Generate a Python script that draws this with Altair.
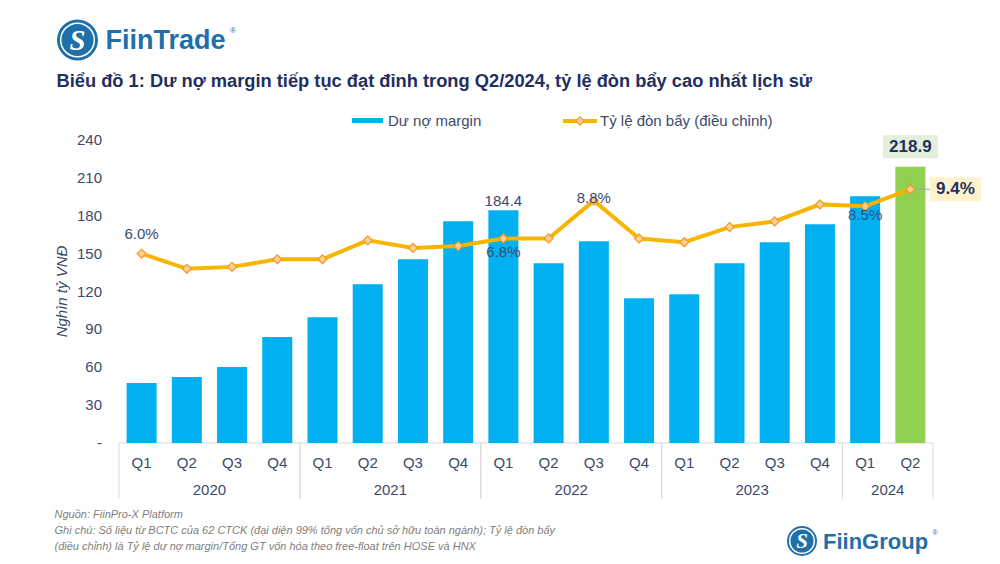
import altair as alt
import pandas as pd

# ---------------- data ----------------
quarters = ["Q1", "Q2", "Q3", "Q4", "Q1", "Q2", "Q3", "Q4", "Q1", "Q2", "Q3", "Q4",
            "Q1", "Q2", "Q3", "Q4", "Q1", "Q2"]
years = ["2020", "2020", "2020", "2020", "2021", "2021", "2021", "2021",
         "2022", "2022", "2022", "2022", "2023", "2023", "2023", "2023",
         "2024", "2024"]
margin = [47.5, 52.2, 60.1, 84.0, 99.7, 125.8, 145.6, 175.6, 184.4, 142.4,
          159.8, 114.7, 117.9, 142.4, 159.0, 173.3, 195.4, 218.9]
leverage = [6.0, 5.2, 5.3, 5.7, 5.7, 6.7, 6.3, 6.4, 6.8, 6.8,
            8.8, 6.8, 6.6, 7.4, 7.7, 8.6, 8.5, 9.4]
y_ticks = [0, 30, 60, 90, 120, 150, 180, 210, 240]
y_domain = [0, 240]
lev_domain = [-4, 12]   # hidden secondary axis

legend_labels = ["Dư nợ margin", "Tỷ lệ đòn bẩy (điều chỉnh)"]
title_text = "Biểu đồ 1: Dư nợ margin tiếp tục đạt đỉnh trong Q2/2024, tỷ lệ đòn bẩy cao nhất lịch sử"
y_title = "Nghìn tỷ VNĐ"
footer_lines = [
    "Nguồn: FiinPro-X Platform",
    "Ghi chú: Số liệu từ BCTC của 62 CTCK (đại diện 99% tổng vốn chủ sở hữu toàn ngành); Tỷ lệ đòn bẩy",
    "(điều chỉnh) là Tỷ lệ dư nợ margin/Tổng GT vốn hóa theo free-float trên HOSE và HNX",
]

df = pd.DataFrame({"i": list(range(len(margin))), "q": quarters, "year": years,
                   "margin": margin, "lev": leverage})
ticks_df = pd.DataFrame({"v": y_ticks})
one = pd.DataFrame({"a": [0]})

# ---------------- style ----------------
FONT = "Liberation Sans, Arial, sans-serif"
TXT = "#3b4a6b"
NAVY = "#1f2f5f"
BLUE = "#00b0f0"
GREEN = "#92d050"
GOLD = "#f7b500"
LOGO = "#1f6fa8"
W, H = 814, 303
LAST = len(margin) - 1

xscale = alt.Scale(domain=[-0.5, len(margin) - 0.5], nice=False, zero=False)
yscale = alt.Scale(domain=y_domain, nice=False, zero=True)
lev_expr = f"(datum.lev - ({lev_domain[0]})) * {y_domain[1]} / ({lev_domain[1]} - ({lev_domain[0]}))"

base = alt.Chart(df)
X = alt.X("i:Q", scale=xscale, axis=None)
LY = alt.Y("ly:Q", scale=yscale, axis=None, title=None)
MY = alt.Y("margin:Q", scale=yscale, axis=None, title=None)

bars = base.transform_calculate(
    x0="datum.i - 0.332", x1="datum.i + 0.332", zero="0"
).mark_bar().encode(
    x=alt.X("x0:Q", scale=xscale, axis=None),
    x2="x1:Q",
    y=MY,
    y2="zero:Q",
    color=alt.condition(f"datum.i == {LAST}", alt.value(GREEN), alt.value(BLUE)),
)

# y tick labels (left value axis)
ylabels = alt.Chart(ticks_df).transform_calculate(
    t="datum.v == 0 ? '-' : format(datum.v, 'd')"
).mark_text(font=FONT, fontSize=15, color=TXT, align="right", baseline="middle").encode(
    x=alt.value(-17), y=alt.Y("v:Q", scale=yscale, axis=None, title=None), text="t:N")

line_base = base.transform_calculate(ly=lev_expr, t="format(datum.lev, '.1f') + '%'")
line = line_base.mark_line(color=GOLD, strokeWidth=4).encode(x=X, y=LY)
pts = line_base.mark_point(shape="diamond", filled=True, size=80, fill="#fdd18a",
                           stroke="#f39a2b", strokeWidth=1.3, opacity=1).encode(x=X, y=LY)


def lev_label(idx, dy, dx=0, color=TXT):
    return line_base.transform_filter(f"datum.i == {idx}").mark_text(
        font=FONT, fontSize=15, color=color, dy=dy, dx=dx, baseline="middle"
    ).encode(x=X, y=LY, text="t:N")


lab60 = lev_label(0, -20)
lab68 = lev_label(8, 14)
lab88 = lev_label(10, -3)
lab85 = lev_label(16, 9, color="#2f4f8a")

# 9.4% call-out
box94 = line_base.transform_filter(f"datum.i == {LAST}").mark_point(
    shape="M-1,-0.47L1,-0.47L1,0.47L-1,0.47Z", size=51 ** 2, filled=True,
    fill="#fff2cc", opacity=1, strokeWidth=0, xOffset=45).encode(x=X, y=LY)
lead94 = line_base.transform_filter(f"datum.i == {LAST}").mark_point(
    shape="M0,0L1,0", size=32 ** 2, filled=False, stroke="#a6a6a6", strokeWidth=1,
    opacity=1, xOffset=4).encode(x=X, y=LY)
txt94 = line_base.transform_filter(f"datum.i == {LAST}").mark_text(
    font=FONT, fontSize=17, fontWeight="bold", color=NAVY, dx=45, baseline="middle"
).encode(x=X, y=LY, text="t:N")

# bar labels
lab184 = base.transform_filter("datum.i == 8").mark_text(
    font=FONT, fontSize=15, color=TXT, dy=-9, baseline="middle"
).encode(x=X, y=MY, text=alt.Text("margin:Q", format=".1f"))
box219 = base.transform_filter(f"datum.i == {LAST}").mark_point(
    shape="M-1,-0.418L1,-0.418L1,0.418L-1,0.418Z", size=55 ** 2, filled=True,
    fill="#e2efda", opacity=1, strokeWidth=0, yOffset=-20
).encode(x=X, y=MY)
txt219 = base.transform_filter(f"datum.i == {LAST}").mark_text(
    font=FONT, fontSize=17, fontWeight="bold", color=NAVY, dy=-20, baseline="middle"
).encode(x=X, y=MY, text=alt.Text("margin:Q", format=".1f"))

# x axis (two levels)
qlab = base.mark_text(font=FONT, fontSize=15, color=TXT, baseline="middle").encode(
    x=X, y=alt.value(H + 20), text="q:N")
ylab = base.transform_aggregate(mid="mean(i)", groupby=["year"]).mark_text(
    font=FONT, fontSize=15, color=TXT, baseline="middle").encode(
    x=alt.X("mid:Q", scale=xscale, axis=None), y=alt.value(H + 47), text="year:N")
seps = base.transform_aggregate(lo="min(i)", hi="max(i)", groupby=["year"]).transform_calculate(
    a="datum.lo - 0.5", b="datum.hi + 0.5").transform_fold(["a", "b"], as_=["k", "edge"]).mark_rule(
    color="#d9d9d9", strokeWidth=1).encode(
    x=alt.X("edge:Q", scale=xscale, axis=None), y=alt.value(H), y2=alt.value(H + 56))
baseline = alt.Chart(one).mark_rule(color="#d9d9d9", strokeWidth=1).encode(
    x=alt.value(0), x2=alt.value(W), y=alt.value(H))

# legend
leg_df = pd.DataFrame({"label": legend_labels, "k": [0, 1]})
leg_bar = alt.Chart(one).mark_rect(color=BLUE).encode(
    x=alt.value(233), x2=alt.value(264), y=alt.value(-22), y2=alt.value(-17))
leg_line = alt.Chart(one).mark_rule(color=GOLD, strokeWidth=4).encode(
    x=alt.value(444), x2=alt.value(478), y=alt.value(-19))
leg_pt = alt.Chart(one).mark_point(shape="diamond", filled=True, size=70, fill="#fdd18a",
                                   stroke="#f39a2b", strokeWidth=1.2, opacity=1).encode(
    x=alt.value(461), y=alt.value(-19))
leg_t1 = alt.Chart(leg_df).transform_filter("datum.k == 0").mark_text(
    font=FONT, fontSize=15, color=TXT, align="left", baseline="middle").encode(
    x=alt.value(269), y=alt.value(-19), text="label:N")
leg_t2 = alt.Chart(leg_df).transform_filter("datum.k == 1").mark_text(
    font=FONT, fontSize=15, color=TXT, align="left", baseline="middle").encode(
    x=alt.value(481), y=alt.value(-19), text="label:N")

# titles / decorations
title = alt.Chart(one).mark_text(font=FONT, fontSize=18.3, fontWeight="bold", color=NAVY,
                                 align="left", baseline="alphabetic", text=title_text).encode(
    x=alt.value(-62.5), y=alt.value(-53))
ytitle = alt.Chart(one).mark_text(font=FONT, fontSize=15, fontStyle="italic", color=TXT,
                                  angle=270, align="center", baseline="middle", text=y_title).encode(
    x=alt.value(-57), y=alt.value(H / 2))
footer = alt.Chart(one).mark_text(font=FONT, fontSize=11, fontStyle="italic", color="#808080",
                                  align="left", baseline="middle", lineHeight=16,
                                  lineBreak="\n", text="\n".join(footer_lines)).encode(
    x=alt.value(-64.5), y=alt.value(375))


def logo(cx, cy, d, word, fs, tx):
    c1 = alt.Chart(one).mark_point(shape="circle", filled=True, size=d * d, color=LOGO, opacity=1).encode(
        x=alt.value(cx), y=alt.value(cy))
    c2 = alt.Chart(one).mark_point(shape="circle", filled=False, size=(d * 0.82) ** 2, color="white",
                                   strokeWidth=1.5, opacity=1).encode(x=alt.value(cx), y=alt.value(cy))
    s = alt.Chart(one).mark_text(font="Liberation Serif, serif", fontSize=d * 0.7, fontWeight="bold",
                                 fontStyle="italic", color="white", baseline="middle", align="center",
                                 text="S").encode(x=alt.value(cx), y=alt.value(cy + 1))
    t = alt.Chart(one).mark_text(font=FONT, fontSize=fs, fontWeight="bold", color=LOGO,
                                 align="left", baseline="middle", text=word).encode(
        x=alt.value(tx), y=alt.value(cy + 1))
    return [c1, c2, s, t]


logo1 = logo(-41.5, -100, 41, "FiinTrade", 27, -13.5)
reg1 = alt.Chart(one).mark_text(font=FONT, fontSize=8, color=LOGO, text="®").encode(
    x=alt.value(114), y=alt.value(-109))
logo2 = logo(683, 401, 30, "FiinGroup", 22, 704)
reg2 = alt.Chart(one).mark_text(font=FONT, fontSize=7, color=LOGO, text="®").encode(
    x=alt.value(816), y=alt.value(393))

layers = [baseline, seps, bars, ylabels, line, pts, lab60, lab68, lab88, lab85, lead94, box94, txt94,
          lab184, box219, txt219, qlab, ylab, leg_bar, leg_line, leg_pt, leg_t1, leg_t2,
          title, ytitle, footer] + logo1 + [reg1] + logo2 + [reg2]

chart = alt.layer(*layers).properties(
    width=W, height=H,
    autosize=alt.AutoSizeParams(type="none"),
    padding={"left": 111, "top": 132, "right": 48, "bottom": 113},
).configure(background="white").configure_view(stroke=None)

chart.save("out.html", embed_options={"renderer": "svg", "actions": False})
